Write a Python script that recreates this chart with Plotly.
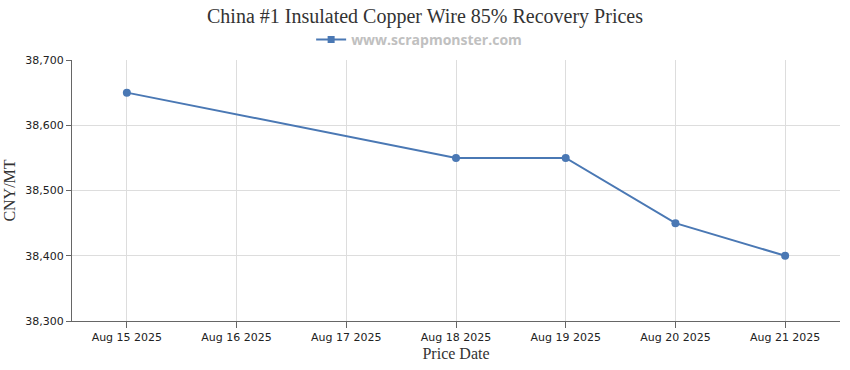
import plotly.graph_objects as go

dates = ["2025-08-15", "2025-08-18", "2025-08-19", "2025-08-20", "2025-08-21"]
prices = [38650, 38550, 38550, 38450, 38400]
tick_dates = ["2025-08-15", "2025-08-16", "2025-08-17", "2025-08-18", "2025-08-19", "2025-08-20", "2025-08-21"]
tick_labels = ["Aug 15 2025", "Aug 16 2025", "Aug 17 2025", "Aug 18 2025", "Aug 19 2025", "Aug 20 2025", "Aug 21 2025"]
series_name = "www.scrapmonster.com"
color = "#4a78b4"

W, H = 850, 370

fig = go.Figure()
fig.add_trace(go.Scatter(
    x=dates, y=prices, mode="lines+markers", name=series_name, showlegend=False,
    line=dict(color=color, width=2),
    marker=dict(color=color, size=8),
))
fig.add_trace(go.Scatter(
    x=[None], y=[None], mode="lines+markers", name=series_name, showlegend=True,
    line=dict(color=color, width=2),
    marker=dict(color=color, size=7, symbol="square"),
))
fig.update_layout(
    width=W, height=H,
    margin=dict(l=72, r=10, t=60, b=49, autoexpand=False),
    paper_bgcolor="white", plot_bgcolor="white",
    title=dict(text="China #1 Insulated Copper Wire 85% Recovery Prices",
               x=0.5, xanchor="center", yref="container", y=1 - 16 / H, yanchor="middle",
               font=dict(family="Liberation Serif, Times New Roman, serif", size=20, color="#333333")),
    showlegend=True,
    legend=dict(orientation="h", x=0.452, xanchor="center", y=1.077, yanchor="middle",
                itemwidth=30,
                font=dict(family="Open Sans, DejaVu Sans, sans-serif", size=14, color="#c0c0c0", weight="bold"),
                bgcolor="rgba(0,0,0,0)"),
    xaxis=dict(
        type="date",
        range=["2025-08-14 12:00", "2025-08-21 12:00"],
        tickvals=tick_dates, ticktext=tick_labels,
        showgrid=True, gridcolor="#dddddd",
        showline=True, linecolor="#666666", linewidth=1,
        ticks="outside", tickcolor="#666666", ticklen=6,
        tickfont=dict(family="DejaVu Sans, Verdana, sans-serif", size=11, color="#222222"),
        title=dict(text="Price Date", standoff=4,
                   font=dict(family="Liberation Serif, Times New Roman, serif", size=16, color="#333333")),
        zeroline=False, automargin=False,
    ),
    yaxis=dict(
        range=[38300, 38700],
        tickvals=[38300, 38400, 38500, 38600, 38700],
        tickformat=",",
        showgrid=True, gridcolor="#dddddd",
        showline=True, linecolor="#666666", linewidth=1,
        ticks="outside", tickcolor="#666666", ticklen=5,
        tickfont=dict(family="DejaVu Sans, Verdana, sans-serif", size=11, color="#222222"),
        title=dict(text="CNY/MT", standoff=5,
                   font=dict(family="Liberation Serif, Times New Roman, serif", size=16, color="#333333")),
        zeroline=False, automargin=False,
    ),
)
fig.write_html("out.html", config={"displayModeBar": False},
               post_script="document.body.style.margin='0';")
